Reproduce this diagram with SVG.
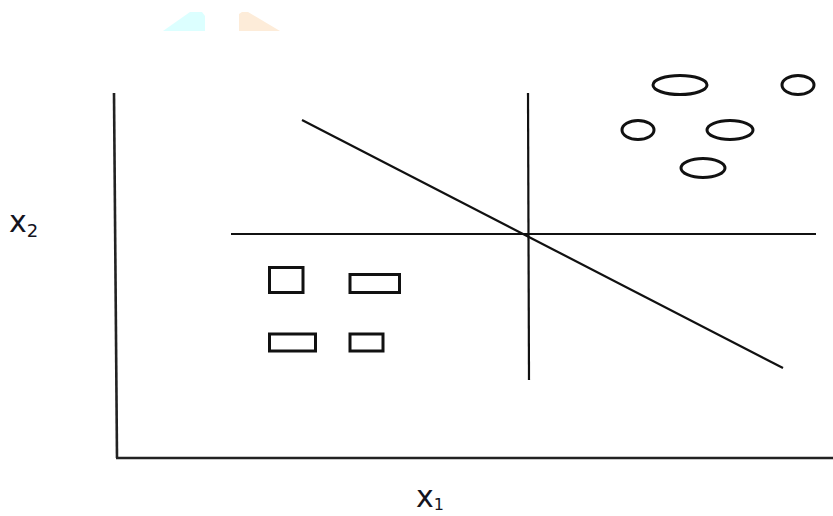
<svg xmlns="http://www.w3.org/2000/svg" width="833" height="516" viewBox="0 0 833 516">
<style>
.ln{stroke:#111;stroke-width:2.2;fill:none;stroke-linecap:butt}
.ax{stroke:#222;stroke-width:2.6;fill:none}
.pt{stroke:#111;stroke-width:3;fill:none}
.lbl{font-family:"DejaVu Sans",Verdana,sans-serif;fill:#14141e}
</style>
<rect width="833" height="516" fill="#fff"/>
<g id="deco">
<polygon points="163,31 190,12 202,12 205,16 205,31" fill="#dcffff"/>
<polygon points="239,31 239,14 242,12 248,12 280,31" fill="#fdecd9"/>
</g>
<g id="connectors">
<line class="ax" x1="114" y1="93" x2="117" y2="458"/>
<line class="ax" x1="116" y1="458" x2="833" y2="458" stroke="#444"/>
<line class="ln" x1="528" y1="93" x2="529" y2="380"/>
<line class="ln" x1="231" y1="234" x2="816" y2="234"/>
<line class="ln" x1="302" y1="120" x2="783" y2="368"/>
</g>
<g id="circles">
<g id="c1"><ellipse class="pt" cx="680" cy="85" rx="27" ry="9.5"/></g>
<g id="c2"><ellipse class="pt" cx="798" cy="85" rx="16" ry="9.5"/></g>
<g id="c3"><ellipse class="pt" cx="638" cy="130" rx="16" ry="9.5"/></g>
<g id="c4"><ellipse class="pt" cx="730" cy="130" rx="23" ry="9.5"/></g>
<g id="c5"><ellipse class="pt" cx="703" cy="168" rx="22" ry="9.5"/></g>
</g>
<g id="squares">
<g id="s1"><rect class="pt" x="269.5" y="267.5" width="33.5" height="25"/></g>
<g id="s2"><rect class="pt" x="350" y="274.5" width="49.5" height="18"/></g>
<g id="s3"><rect class="pt" x="269.5" y="334" width="46" height="17"/></g>
<g id="s4"><rect class="pt" x="350" y="334" width="33" height="17"/></g>
</g>
<g id="label-x2"><text class="lbl" x="9" y="232" font-size="30">x<tspan font-size="18" dy="5">2</tspan></text></g>
<g id="label-x1"><text class="lbl" x="416" y="507" font-size="30">x<tspan font-size="16" dy="3">1</tspan></text></g>
</svg>
